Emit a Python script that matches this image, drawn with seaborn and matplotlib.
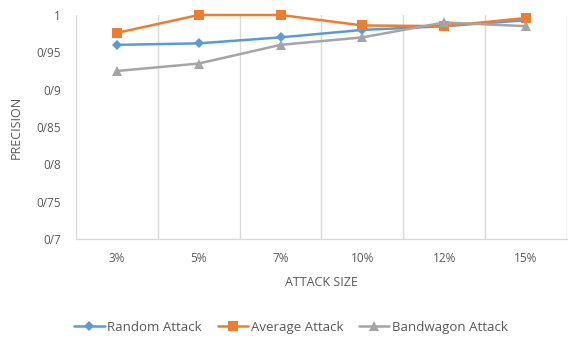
import matplotlib
matplotlib.use("Agg")
import matplotlib.pyplot as plt
import seaborn as sns
import pandas as pd
import numpy as np

attack_sizes = ["3%", "5%", "7%", "10%", "12%", "15%"]
random_attack = [0.960, 0.962, 0.970, 0.980, 0.985, 0.993]
average_attack = [0.976, 1.000, 1.000, 0.986, 0.985, 0.996]
bandwagon_attack = [0.925, 0.935, 0.960, 0.970, 0.990, 0.985]

y_ticks = [0.7, 0.75, 0.8, 0.85, 0.9, 0.95, 1.0]
y_tick_labels = ["0/7", "0/75", "0/8", "0/85", "0/9", "0/95", "1"]

sns.set_theme(style="white")
plt.rcParams["font.family"] = ["Open Sans", "DejaVu Sans"]

pos = np.arange(len(attack_sizes))
df = pd.DataFrame({
    "pos": np.tile(pos, 3),
    "precision": random_attack + average_attack + bandwagon_attack,
    "series": ["Random Attack"] * 6 + ["Average Attack"] * 6 + ["Bandwagon Attack"] * 6,
})

palette = {"Random Attack": "#5B9BD5", "Average Attack": "#ED7D31", "Bandwagon Attack": "#A5A5A5"}
markers = {"Random Attack": "D", "Average Attack": "s", "Bandwagon Attack": "^"}
sizes = {"Random Attack": 5.5, "Average Attack": 6.5, "Bandwagon Attack": 7}

fig = plt.figure(figsize=(5.73, 3.43), dpi=100)
ax = fig.add_axes([0.1326, 0.3032, 0.8569, 0.6531])

for name in ["Random Attack", "Average Attack", "Bandwagon Attack"]:
    sub = df[df["series"] == name]
    sns.lineplot(data=sub, x="pos", y="precision", ax=ax, color=palette[name],
                 marker=markers[name], markersize=sizes[name], markeredgewidth=0,
                 linewidth=1.8, label=name, clip_on=False)

ax.set_xlim(-0.5, len(attack_sizes) - 0.5)
ax.set_ylim(0.7, 1.0)
ax.set_xticks(pos)
ax.set_xticklabels(attack_sizes)
ax.set_xticks(np.arange(-0.5, len(attack_sizes), 1.0), minor=True)
ax.set_yticks(y_ticks)
ax.set_yticklabels(y_tick_labels)
ax.tick_params(axis="both", which="both", length=0, labelsize=8.5, colors="#595959")
ax.tick_params(axis="x", pad=9)
ax.tick_params(axis="y", pad=11)
ax.grid(False)
ax.grid(True, which="minor", axis="x", color="#D9D9D9", linewidth=1)
for s in ["top", "right", "left"]:
    ax.spines[s].set_visible(False)
ax.spines["bottom"].set_color("#D9D9D9")
ax.spines["bottom"].set_linewidth(1)

ax.set_xlabel("ATTACK SIZE", fontsize=9, color="#595959", labelpad=8)
ax.set_ylabel("PRECISION", fontsize=9, color="#595959", labelpad=10)

handles, labels = ax.get_legend_handles_labels()
ax.legend(handles, labels, loc="center", bbox_to_anchor=(0.508, 0.045), bbox_transform=fig.transFigure,
          ncol=3, frameon=False, fontsize=9.5, labelcolor="#595959", handlelength=2.3,
          columnspacing=1.2, handletextpad=0.2)

fig.savefig("out.png", dpi=100)
